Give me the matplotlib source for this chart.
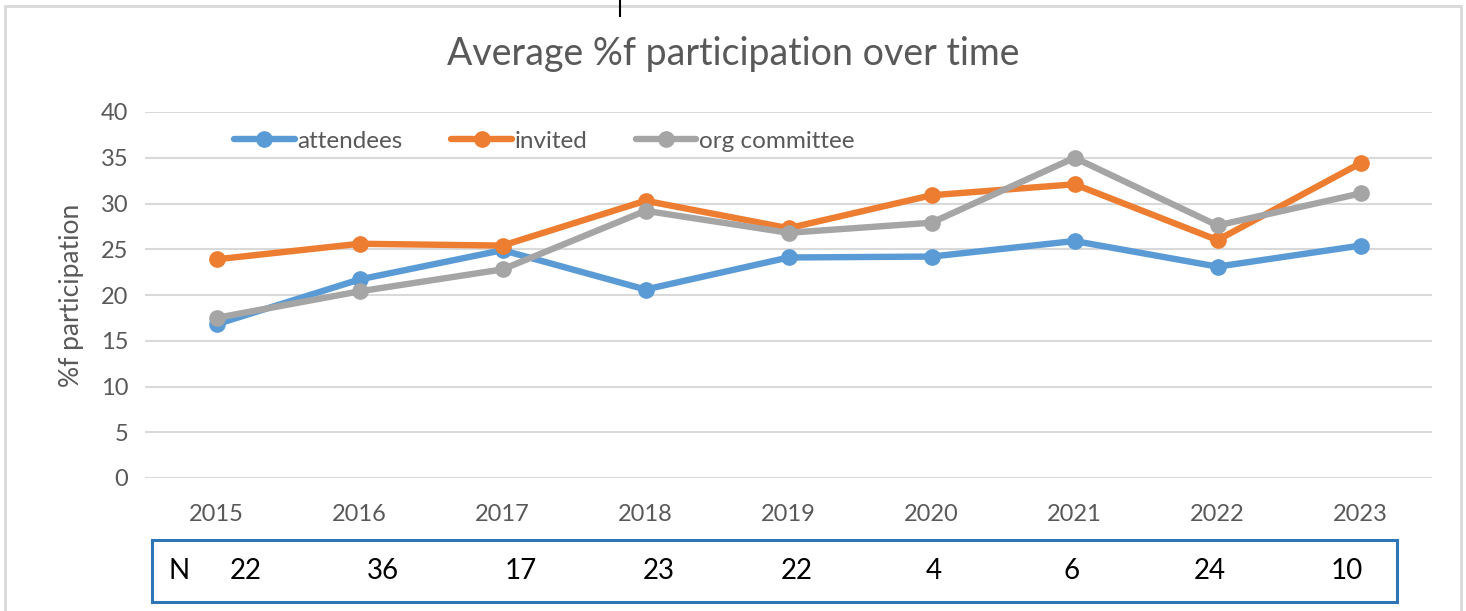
import matplotlib
matplotlib.use("Agg")
import matplotlib.pyplot as plt
from matplotlib.patches import Rectangle
from matplotlib.lines import Line2D
import numpy as np

plt.rcParams['font.family'] = ['Lato', 'DejaVu Sans']

years = ["2015", "2016", "2017", "2018", "2019", "2020", "2021", "2022", "2023"]
attendees = [16.8, 21.7, 24.9, 20.6, 24.1, 24.2, 25.9, 23.1, 25.4]
invited = [23.9, 25.6, 25.4, 30.3, 27.3, 30.9, 32.1, 26.0, 34.4]
org_committee = [17.5, 20.4, 22.8, 29.2, 26.8, 27.9, 35.0, 27.6, 31.1]
n_values = [22, 36, 17, 23, 22, 4, 6, 24, 10]
yticks = [0, 5, 10, 15, 20, 25, 30, 35, 40]

C_BLUE = "#5B9BD5"
C_ORANGE = "#ED7D31"
C_GRAY = "#A5A5A5"
TXT = "#595959"

fig = plt.figure(figsize=(14.66, 6.11), dpi=100)

# outer chart frame
fig.add_artist(Rectangle((5 / 1466, -0.05), 1456 / 1466, 1.05 - 6 / 611,
                         transform=fig.transFigure, fill=False,
                         edgecolor="#D9D9D9", linewidth=2))
fig.add_artist(Line2D([620 / 1466, 620 / 1466], [1.0, 1 - 16 / 611],
                      transform=fig.transFigure, color="black", linewidth=1.5))

ax = fig.add_axes([145 / 1466, 1 - 478 / 611, (1432 - 145) / 1466, (478 - 112) / 611])
x = np.arange(len(years))
series = [("attendees", attendees, C_BLUE),
          ("invited", invited, C_ORANGE),
          ("org committee", org_committee, C_GRAY)]
for name, vals, col in series:
    ax.plot(x, vals, color=col, linewidth=4.6, marker="o", markersize=11,
            label=name, solid_capstyle="round", solid_joinstyle="round", zorder=3)

ax.set_xlim(-0.5, len(years) - 0.5)
ax.set_ylim(0, 40)
ax.set_yticks(yticks)
ax.set_xticks(x)
ax.set_xticklabels(years)
ax.grid(axis="y", color="#D9D9D9", linewidth=1.5, zorder=0)
for s in ax.spines.values():
    s.set_visible(False)
ax.tick_params(axis="both", length=0, labelsize=17, labelcolor=TXT)
ax.tick_params(axis="x", pad=19)
ax.tick_params(axis="y", pad=12)
ax.set_ylabel("%f participation", fontsize=19, color=TXT, labelpad=12)

fig.text(0.5, 1 - 54 / 611, "Average %f participation over time", ha="center",
         va="center", fontsize=27, color=TXT)

leg = ax.legend(loc="upper left", bbox_to_anchor=(0.056, 0.995), ncol=3,
                frameon=False, fontsize=17.5, handlelength=2.5,
                columnspacing=2.0, handletextpad=0.1, borderaxespad=0.3)
for t in leg.get_texts():
    t.set_color(TXT)

# N box
axn = fig.add_axes([152 / 1466, 1 - 602 / 611, (1397 - 152) / 1466, 62 / 611])
axn.set_xlim(0, 1)
axn.set_ylim(0, 1)
axn.set_xticks([])
axn.set_yticks([])
for s in axn.spines.values():
    s.set_color("#2E75B6")
    s.set_linewidth(2.2)
axn.text(0.022, 0.5, "N", ha="center", va="center", fontsize=20, color="black")
pos = np.linspace(0.075, 0.96, len(n_values))
for p, n in zip(pos, n_values):
    axn.text(p, 0.5, str(n), ha="center", va="center", fontsize=20, color="black")

fig.savefig("out.png", dpi=100)
